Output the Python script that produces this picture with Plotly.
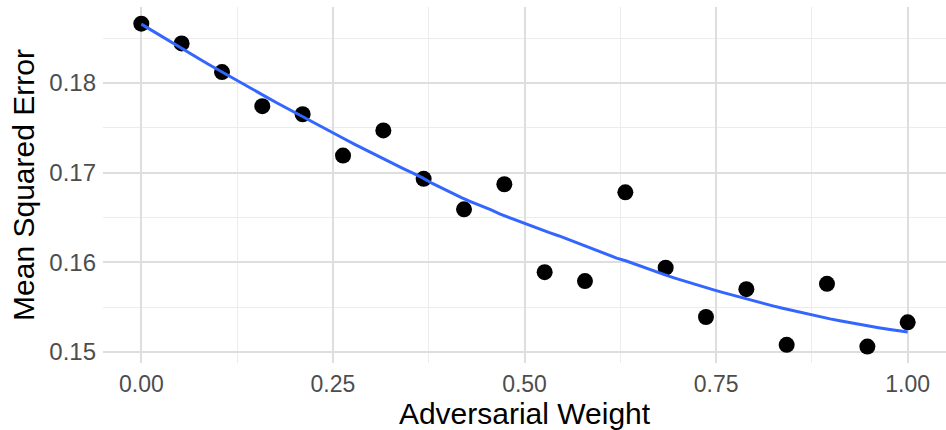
import numpy as np
import plotly.graph_objects as go

# Adversarial weight settings and the resulting mean squared error
adv_weight = [0.0, 0.0526, 0.1053, 0.1579, 0.2105, 0.2632, 0.3158, 0.3684, 0.4211, 0.4737,
              0.5263, 0.5789, 0.6316, 0.6842, 0.7368, 0.7895, 0.8421, 0.8947, 0.9474, 1.0]
mse = [0.1866, 0.1844, 0.1812, 0.1774, 0.1765, 0.1719, 0.1747, 0.1693, 0.1659, 0.1687,
       0.1589, 0.1579, 0.1678, 0.1594, 0.1539, 0.1570, 0.1508, 0.1576, 0.1506, 0.1533]

x_ticks = [0.0, 0.25, 0.5, 0.75, 1.0]
x_tick_labels = ["0.00", "0.25", "0.50", "0.75", "1.00"]
y_ticks = [0.15, 0.16, 0.17, 0.18]
y_tick_labels = ["0.15", "0.16", "0.17", "0.18"]


def loess(x, y, x_eval, span=0.75):
    """Local quadratic regression with tricube weights (like R's loess)."""
    x = np.asarray(x, float)
    y = np.asarray(y, float)
    n = len(x)
    q = int(np.floor(span * n))
    out = []
    for x0 in x_eval:
        d = np.abs(x - x0)
        h = np.sort(d)[q - 1]
        w = np.clip(1 - (d / h) ** 3, 0, None) ** 3
        X = np.column_stack([np.ones(n), x - x0, (x - x0) ** 2])
        W = np.diag(w)
        beta = np.linalg.solve(X.T @ W @ X, X.T @ W @ y)
        out.append(beta[0])
    return np.array(out)


xs = np.linspace(min(adv_weight), max(adv_weight), 80)
ys = loess(adv_weight, mse, xs)

fig = go.Figure()
fig.add_trace(go.Scatter(x=adv_weight, y=mse, mode="markers",
                         marker=dict(color="black", size=16), hoverinfo="x+y"))
fig.add_trace(go.Scatter(x=xs, y=ys, mode="lines",
                         line=dict(color="#3366FF", width=3), hoverinfo="skip"))

font_family = "Liberation Sans, Arial, sans-serif"
fig.update_layout(
    width=946, height=430,
    margin=dict(l=103, r=0, t=7, b=67),
    paper_bgcolor="white", plot_bgcolor="white",
    showlegend=False,
    font=dict(family=font_family),
    xaxis=dict(
        range=[-0.05, 1.05],
        tickvals=x_ticks, ticktext=x_tick_labels,
        tickfont=dict(size=23, color="#4d4d4d"),
        ticks="", ticklabelstandoff=5,
        showgrid=True, gridcolor="#dedede", gridwidth=1.5,
        minor=dict(dtick=0.125, tick0=0.125, showgrid=True, gridcolor="#ececec", gridwidth=1),
        zeroline=False, showline=False,
        title=dict(text="Adversarial Weight", font=dict(size=30, color="black"), standoff=5),
    ),
    yaxis=dict(
        range=[0.14877, 0.18846],
        tickvals=y_ticks, ticktext=y_tick_labels,
        tickfont=dict(size=24, color="#4d4d4d"),
        ticks="", ticklabelstandoff=6,
        showgrid=True, gridcolor="#dedede", gridwidth=1.5,
        minor=dict(dtick=0.005, tick0=0.145, showgrid=True, gridcolor="#ececec", gridwidth=1),
        zeroline=False, showline=False,
        title=dict(text="Mean Squared Error", font=dict(size=30, color="black"), standoff=5),
    ),
)

fig.write_html("out.html")
